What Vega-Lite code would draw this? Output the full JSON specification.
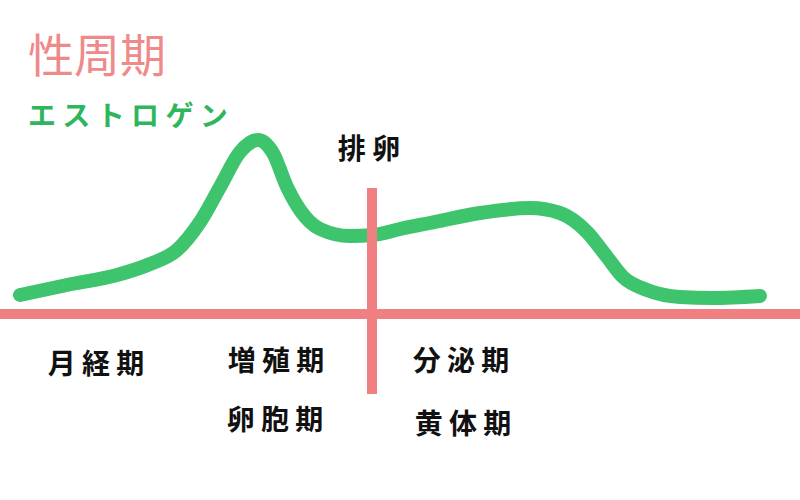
{
  "$schema": "https://vega.github.io/schema/vega-lite/v6.json",
  "width": 800,
  "height": 500,
  "padding": 0,
  "autosize": {"type": "none"},
  "background": "white",
  "config": {"view": {"stroke": null}},
  "datasets": {
    "estrogen": [
      {"x": 20, "y": 295}, {"x": 67, "y": 285}, {"x": 117, "y": 275},
      {"x": 150, "y": 264}, {"x": 177, "y": 250}, {"x": 200, "y": 222},
      {"x": 220, "y": 187}, {"x": 240, "y": 152}, {"x": 258, "y": 140},
      {"x": 273, "y": 153}, {"x": 287, "y": 187}, {"x": 300, "y": 210},
      {"x": 320, "y": 229}, {"x": 350, "y": 236}, {"x": 373, "y": 235},
      {"x": 400, "y": 229}, {"x": 430, "y": 223}, {"x": 480, "y": 213},
      {"x": 530, "y": 208}, {"x": 560, "y": 213}, {"x": 587, "y": 232},
      {"x": 607, "y": 257}, {"x": 623, "y": 277}, {"x": 647, "y": 290},
      {"x": 680, "y": 297}, {"x": 713, "y": 298}, {"x": 760, "y": 296}
    ],
    "baseline": [{"x": 0, "x2": 800, "y": 314}],
    "ovulation": [{"x": 372, "y": 188, "y2": 394}],
    "labels": [
      {"kind": "title", "text": "性周期", "x": 28, "y": 58},
      {"kind": "hormone", "text": "エ ス ト ロ ゲ ン", "x": 28, "y": 118},
      {"kind": "phase", "text": "排 卵", "x": 369, "y": 151},
      {"kind": "phase", "text": "月 経 期", "x": 96, "y": 366},
      {"kind": "phase", "text": "増 殖 期", "x": 276, "y": 363},
      {"kind": "phase", "text": "卵 胞 期", "x": 275, "y": 422},
      {"kind": "phase", "text": "分 泌 期", "x": 461, "y": 363},
      {"kind": "phase", "text": "黄 体 期", "x": 463, "y": 426}
    ]
  },
  "layer": [
    {
      "data": {"name": "baseline"},
      "mark": {"type": "rule", "color": "#ef7f80", "strokeWidth": 10},
      "encoding": {
        "x": {"field": "x", "type": "quantitative", "scale": {"domain": [0, 800]}, "axis": null},
        "x2": {"field": "x2"},
        "y": {"field": "y", "type": "quantitative", "scale": {"domain": [0, 500], "reverse": true}, "axis": null}
      }
    },
    {
      "data": {"name": "estrogen"},
      "mark": {"type": "line", "color": "#3ec46d", "strokeWidth": 14, "strokeCap": "round", "strokeJoin": "round", "interpolate": "monotone"},
      "encoding": {
        "x": {"field": "x", "type": "quantitative", "scale": {"domain": [0, 800]}, "axis": null},
        "y": {"field": "y", "type": "quantitative", "scale": {"domain": [0, 500], "reverse": true}, "axis": null}
      }
    },
    {
      "data": {"name": "ovulation"},
      "mark": {"type": "rule", "color": "#ef7f80", "strokeWidth": 10},
      "encoding": {
        "x": {"field": "x", "type": "quantitative", "scale": {"domain": [0, 800]}, "axis": null},
        "y": {"field": "y", "type": "quantitative", "scale": {"domain": [0, 500], "reverse": true}, "axis": null},
        "y2": {"field": "y2"}
      }
    },
    {
      "data": {"name": "labels"},
      "transform": [{"filter": "datum.kind === 'title'"}],
      "mark": {"type": "text", "align": "left", "baseline": "middle", "font": "Noto Sans CJK JP", "fontSize": 46, "fontWeight": 400, "color": "#ef8a8b"},
      "encoding": {
        "x": {"field": "x", "type": "quantitative", "scale": {"domain": [0, 800]}, "axis": null},
        "y": {"field": "y", "type": "quantitative", "scale": {"domain": [0, 500], "reverse": true}, "axis": null},
        "text": {"field": "text"}
      }
    },
    {
      "data": {"name": "labels"},
      "transform": [{"filter": "datum.kind === 'hormone'"}],
      "mark": {"type": "text", "align": "left", "baseline": "middle", "font": "Noto Sans CJK JP", "fontSize": 28, "fontWeight": "bold", "color": "#2fb55e"},
      "encoding": {
        "x": {"field": "x", "type": "quantitative", "scale": {"domain": [0, 800]}, "axis": null},
        "y": {"field": "y", "type": "quantitative", "scale": {"domain": [0, 500], "reverse": true}, "axis": null},
        "text": {"field": "text"}
      }
    },
    {
      "data": {"name": "labels"},
      "transform": [{"filter": "datum.kind === 'phase'"}],
      "mark": {"type": "text", "align": "center", "baseline": "middle", "font": "Noto Sans CJK JP", "fontSize": 28, "fontWeight": "bold", "color": "#111111"},
      "encoding": {
        "x": {"field": "x", "type": "quantitative", "scale": {"domain": [0, 800]}, "axis": null},
        "y": {"field": "y", "type": "quantitative", "scale": {"domain": [0, 500], "reverse": true}, "axis": null},
        "text": {"field": "text"}
      }
    }
  ]
}
